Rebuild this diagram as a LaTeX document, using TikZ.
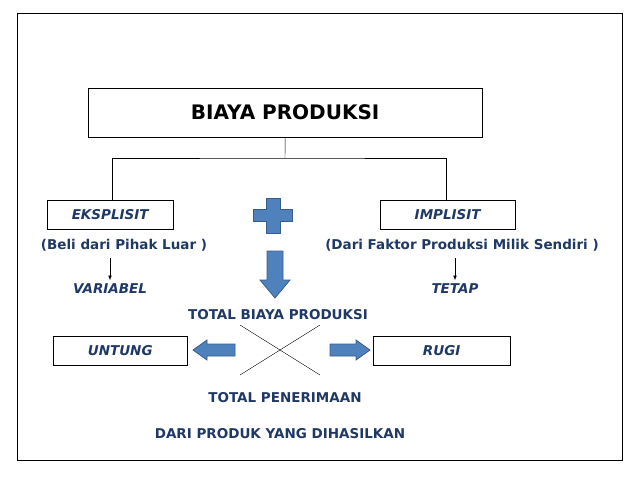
\documentclass[tikz,border=0pt]{standalone}
\usepackage{fontspec}
\setmainfont{DejaVu Sans}
\usetikzlibrary{arrows.meta}
\definecolor{txtblue}{HTML}{1F3864}
\definecolor{arrfill}{HTML}{4F81BD}
\definecolor{arrline}{HTML}{385D8A}
\begin{document}
\begin{tikzpicture}[x=1pt,y=-1pt,
    every node/.style={font=\bfseries\fontsize{13.5}{15}\selectfont,text=txtblue},
    box/.style={draw,thin,minimum height=29pt,anchor=north west},
    miring/.style={font=\bfseries\itshape\fontsize{13.5}{15}\selectfont},
    bigarrow/.style={fill=arrfill,draw=arrline,thick}]
    \useasboundingbox (0,0) rectangle (638,479);
    \draw[thin] (17,13) rectangle (622,460);
    \node[box,minimum width=394pt,minimum height=49pt,text=black,font=\bfseries\fontsize{20}{22}\selectfont] (judul) at (88,88) {BIAYA PRODUKSI};
    \node[box,minimum width=126pt,miring] (eks) at (47,200) {EKSPLISIT};
    \node[box,minimum width=135pt,miring] (imp) at (380,200) {IMPLISIT};
    \coordinate (cab) at (285,158);
    \draw (judul.south) -- (cab);
    \draw (eks.north -| 112,0) |- (cab) -| (imp.north -| 446,0);
    % tanda tambah
    \filldraw[bigarrow] (266,198) -- (280,198) -- (280,209) -- (292,209) -- (292,221) -- (280,221)
        -- (280,233) -- (266,233) -- (266,221) -- (253,221) -- (253,209) -- (266,209) -- cycle;
    \node (beli) at (124,245) {(Beli dari Pihak Luar )};
    \node (dari) at (462,245) {(Dari Faktor Produksi Milik Sendiri )};
    \node[miring] (var) at (110,289) {VARIABEL};
    \node[miring] (tetap) at (455,289) {TETAP};
    \draw[-{Latex[length=5pt]},thick,black] (110,258) -- (var.north);
    \draw[-{Latex[length=5pt]},thick,black] (455,258) -- (tetap.north);
    % panah bawah
    \filldraw[bigarrow] (267,251) -- (283,251) -- (283,280) -- (290,280) -- (275,298) -- (260,280) -- (267,280) -- cycle;
    \node (tbp) at (278,315) {TOTAL BIAYA PRODUKSI};
    \node[box,minimum width=134pt,miring] (untung) at (53,336) {UNTUNG};
    \node[box,minimum width=137pt,miring] (rugi) at (373,336) {RUGI};
    \filldraw[bigarrow] (235,344) -- (207,344) -- (207,340) -- (193,350) -- (207,360) -- (207,356) -- (235,356) -- cycle;
    \filldraw[bigarrow] (330,344) -- (356,344) -- (356,340) -- (370,350) -- (356,360) -- (356,356) -- (330,356) -- cycle;
    \coordinate (x1) at (240,325); \coordinate (x2) at (320,375);
    \coordinate (x3) at (240,375); \coordinate (x4) at (320,325);
    \draw (x1) -- (x2) (x3) -- (x4);
    \node (tp) at (285,398) {TOTAL PENERIMAAN};
    \node (dp) at (280,434) {DARI PRODUK YANG DIHASILKAN};
\end{tikzpicture}
\end{document}
